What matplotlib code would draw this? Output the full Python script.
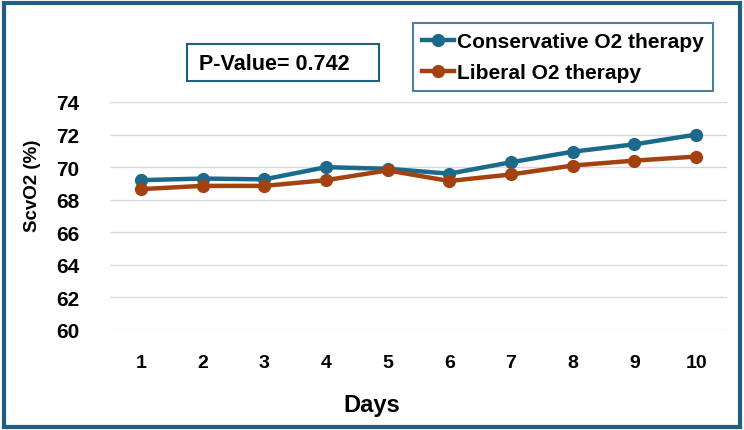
import matplotlib
matplotlib.use("Agg")
import matplotlib.pyplot as plt
from matplotlib.patches import Rectangle

days = [1, 2, 3, 4, 5, 6, 7, 8, 9, 10]
conservative = [69.2, 69.3, 69.25, 70.0, 69.9, 69.6, 70.3, 70.95, 71.4, 72.0]
liberal = [68.65, 68.85, 68.85, 69.2, 69.8, 69.15, 69.55, 70.1, 70.4, 70.65]
yticks = [60, 62, 64, 66, 68, 70, 72, 74]
p_text = "P-Value= 0.742"

blue = "#1b6a8c"
orange = "#a3420f"
frame = "#1f5f80"

plt.rcParams['font.family'] = ['Liberation Sans', 'DejaVu Sans']

fig = plt.figure(figsize=(7.44, 4.31), dpi=100)
ax = fig.add_axes([110/744, 1-331/431, (727-110)/744, (331-103)/431])

ax.plot(days, conservative, color=blue, lw=3.2, marker='o', ms=8.5, label="Conservative O2 therapy", zorder=3)
ax.plot(days, liberal, color=orange, lw=3.2, marker='o', ms=8.5, label="Liberal O2 therapy", zorder=3)

ax.set_ylim(60, 74)
ax.set_xlim(0.5, 10.5)
ax.set_yticks(yticks)
ax.set_xticks(days)
ax.grid(axis='y', color='#d9d9d9', lw=1)
ax.set_axisbelow(True)
for s in ax.spines.values():
    s.set_visible(False)
ax.tick_params(axis='x', length=0, labelsize=14, pad=17)
ax.tick_params(axis='y', length=0, labelsize=15, pad=22)
for lab in ax.get_xticklabels() + ax.get_yticklabels():
    lab.set_fontweight('bold')
ax.set_xlabel("Days", fontsize=17, fontweight='bold')
ax.xaxis.set_label_coords((372-110)/617, (331-406)/228)
ax.xaxis.label.set_va('center')
ax.set_ylabel("ScvO2 (%)", fontsize=13.5, fontweight='bold')
ax.yaxis.set_label_coords((32-110)/617, (331-186)/228)
ax.yaxis.label.set_va('center')

leg = fig.legend(loc='upper left', bbox_to_anchor=(413/744, 1-24/431),
                 frameon=True, fancybox=False, edgecolor=frame,
                 prop={'weight': 'bold', 'size': 15}, handlelength=1.5,
                 handletextpad=0.15, borderpad=0.45, labelspacing=0.55, borderaxespad=0)
leg.get_frame().set_linewidth(1.5)

fig.patches.append(Rectangle((187/744, 1-82/431), (379-187)/744, 37/431,
                             transform=fig.transFigure, fill=False,
                             edgecolor=frame, lw=1.5))
fig.text(199/744, 1-64/431, p_text, fontsize=15.5, fontweight='bold', va='center', ha='left')

fig.patches.append(Rectangle((4/744, 3/431), 736/744, 424/431,
                             transform=fig.transFigure, fill=False,
                             edgecolor=frame, lw=3))

fig.savefig("out.png", dpi=100)
